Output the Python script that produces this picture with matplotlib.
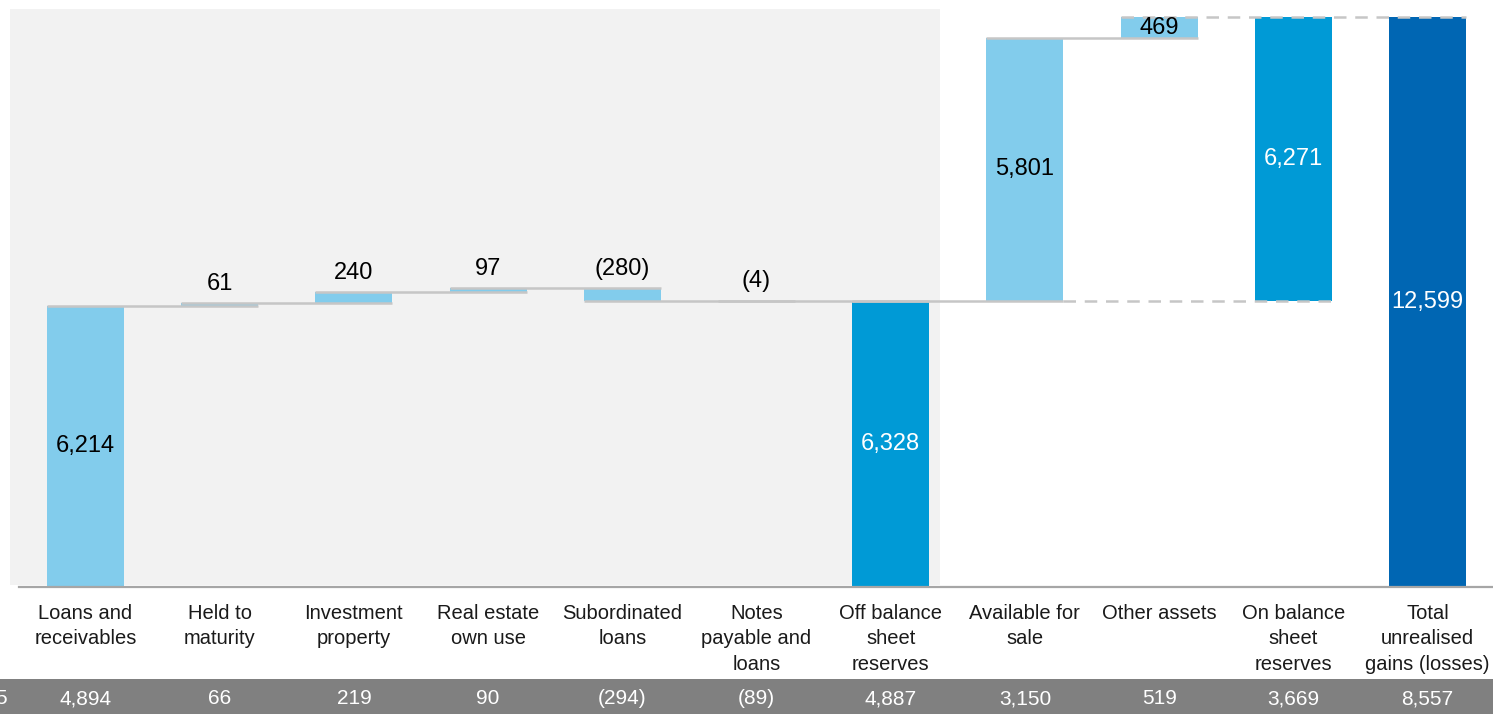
import matplotlib
matplotlib.use('Agg')
import matplotlib.pyplot as plt
from matplotlib.patches import Rectangle

plt.rcParams['font.family'] = ['Liberation Sans', 'DejaVu Sans']

categories = ["Loans and\nreceivables", "Held to\nmaturity", "Investment\nproperty",
              "Real estate\nown use", "Subordinated\nloans", "Notes\npayable and\nloans",
              "Off balance\nsheet\nreserves", "Available for\nsale", "Other assets",
              "On balance\nsheet\nreserves", "Total\nunrealised\ngains (losses)"]
values = [6214, 61, 240, 97, -280, -4, 6328, 5801, 469, 6271, 12599]
kinds = ["step", "step", "step", "step", "step", "step", "total",
         "step", "step", "subtotal", "total"]
value_labels = ["6,214", "61", "240", "97", "(280)", "(4)", "6,328",
                "5,801", "469", "6,271", "12,599"]
prior_labels = ["4,894", "66", "219", "90", "(294)", "(89)", "4,887",
                "3,150", "519", "3,669", "8,557"]
prior_cut_label = "5"

LIGHT = "#82CCEC"
MID = "#009AD6"
DARK = "#0066B3"
colors = [LIGHT, LIGHT, LIGHT, LIGHT, LIGHT, LIGHT, MID, LIGHT, LIGHT, MID, DARK]
label_colors = ["black", "black", "black", "black", "black", "black", "white",
                "black", "black", "white", "white"]
label_inside = [True, False, False, False, False, False, True, True, True, True, True]

W, H = 1493, 714
fig = plt.figure(figsize=(W / 100, H / 100), dpi=100)
base_px = 587
ax = fig.add_axes([0, (H - base_px) / H, 1, base_px / H])
ax.set_xlim(-0.637, 10.488)
ax.set_ylim(0, 12975)
ax.axis('off')

# grey background panel
ax.add_patch(Rectangle((-0.563, 40), 6.93, 12735, facecolor="#F2F2F2",
                       edgecolor='none', zorder=0))

# compute waterfall
bottoms, tops = [], []
cum = 0
last_total = 0
for v, k in zip(values, kinds):
    if k == "step":
        b, t = cum, cum + v
        cum = t
    elif k == "total":
        b, t = 0, v
        cum = v
        last_total = v
    else:  # subtotal from last total
        b, t = last_total, last_total + v
        cum = t
    bottoms.append(b)
    tops.append(t)

x = list(range(len(values)))
w = 0.574
for i in x:
    lo, hi = min(bottoms[i], tops[i]), max(bottoms[i], tops[i])
    ax.bar(i, hi - lo, bottom=lo, width=w, color=colors[i], zorder=2, linewidth=0)

LC = "#C6C6C6"
# solid connectors
for i in range(0, 8):
    ax.plot([i - w / 2, i + 1 + w / 2], [tops[i], tops[i]], color=LC, lw=1.8,
            zorder=3, solid_capstyle='butt')
# dashed connectors
ax.plot([8 - w / 2, 10 + w / 2], [tops[8], tops[8]], color=LC, lw=1.8, zorder=3,
        dashes=(5, 3.5))
ax.plot([7 + w / 2, 9 + w / 2], [bottoms[9], bottoms[9]], color=LC, lw=1.8, zorder=3,
        dashes=(5, 3.5))

# baseline
ax.plot([-0.637 + 19 / 134.2, 10.488], [0, 0], color="#A6A6A6", lw=1.6,
        zorder=3, clip_on=False)

# value labels
for i in x:
    if label_inside[i]:
        ax.text(i, (bottoms[i] + tops[i]) / 2, value_labels[i], ha='center', va='center',
                fontsize=17, color=label_colors[i], zorder=4)
    else:
        ax.annotate(value_labels[i], (i, max(bottoms[i], tops[i])), xytext=(0, 6),
                    textcoords='offset points', ha='center', va='bottom',
                    fontsize=17, color=label_colors[i], zorder=4)

# category labels
trans = ax.get_xaxis_transform()
for i in x:
    ax.text(i, -(604 - base_px) / base_px, categories[i], transform=trans, ha='center',
            va='top', fontsize=14.5, color="#1a1a1a", linespacing=1.42, clip_on=False)

# bottom strip
fig.patches.append(Rectangle((0, 0), 1, (H - 679) / H, transform=fig.transFigure,
                             facecolor="#808080", edgecolor='none', zorder=-1))
ystrip = -(699 - base_px) / base_px
for i in x:
    ax.text(i, ystrip, prior_labels[i], transform=trans, ha='center', va='center',
            fontsize=15, color='white', clip_on=False, zorder=5)
ax.text(-0.585, ystrip, prior_cut_label, transform=trans, ha='right', va='center',
        fontsize=15, color='white', clip_on=False, zorder=5)

fig.savefig("out.png", dpi=100)
